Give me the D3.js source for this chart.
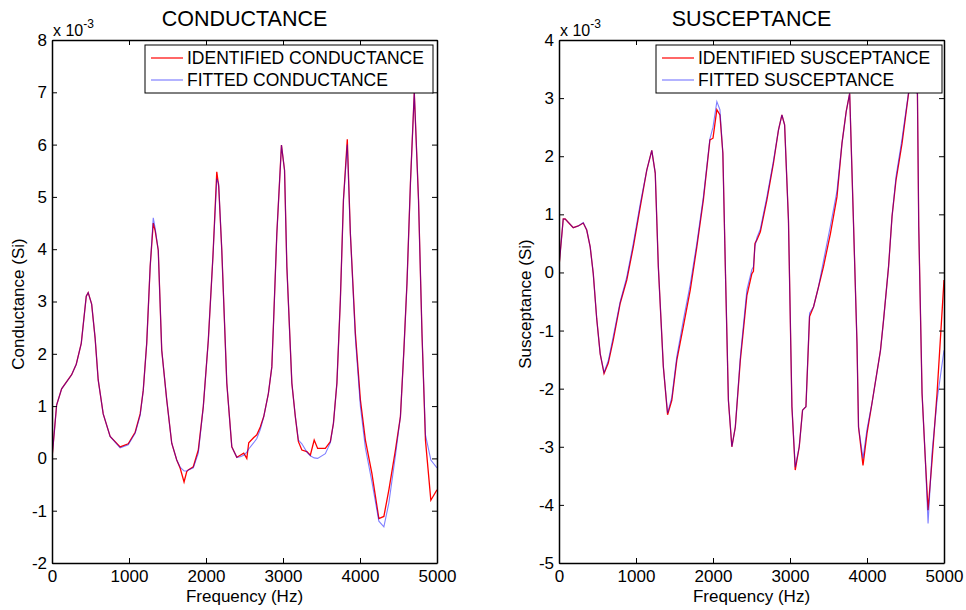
<!DOCTYPE html>
<html lang="en">
<head>
  <meta charset="UTF-8" />
  <script src="https://d3js.org/d3.v7.min.js"></script>
  <title>Conductance and Susceptance</title>
  <style>
    body { margin: 0; background: #fff; }
    svg text { font-family: Arial, "Liberation Sans", sans-serif; fill: #000; }
  </style>
</head>
<body>
  <script>
    // conductance (x 1e-3 Si)
    var gFreq = [0, 60, 125, 255, 315, 380, 445, 470, 515, 560, 600, 665, 755, 885, 990, 1080, 1145, 1185, 1230, 1275,
      1315, 1340, 1380, 1425, 1490, 1555, 1620, 1665, 1715, 1750, 1770, 1835, 1900, 1965, 2030, 2090, 2140, 2165,
      2205, 2270, 2335, 2400, 2445, 2490, 2530, 2555, 2620, 2660, 2705, 2750, 2810, 2855, 2880, 2920, 2980, 3020,
      3050, 3115, 3160, 3200, 3245, 3310, 3355, 3405, 3450, 3550, 3615, 3655, 3700, 3745, 3785, 3835, 3875, 3940,
      4005, 4070, 4155, 4245, 4310, 4375, 4460, 4525, 4570, 4610, 4655, 4705, 4760, 4805, 4850, 4920, 5000];
    var gIdent = [0, 1.02, 1.33, 1.6, 1.8, 2.2, 3.1, 3.17, 2.95, 2.3, 1.5, 0.85, 0.42, 0.22, 0.28, 0.5, 0.85, 1.3, 2.2, 3.67,
      4.5, 4.35, 3.98, 2.07, 1.12, 0.29, -0.03, -0.19, -0.45, -0.25, -0.22, -0.16, 0.16, 0.99, 2.26, 3.86, 5.48, 5.2,
      3.98, 1.44, 0.22, 0.02, 0.06, 0.1, 0.0, 0.3, 0.4, 0.45, 0.6, 0.8, 1.24, 1.75, 2.71, 4.3, 5.99, 5.51,
      3.67, 1.44, 0.8, 0.32, 0.16, 0.13, 0.06, 0.35, 0.19, 0.19, 0.32, 0.67, 1.44, 3.03, 4.94, 6.1, 4.3, 2.39,
      1.12, 0.35, -0.29, -1.15, -1.11, -0.6, 0.16, 0.8, 2.07, 3.35, 5.26, 7.0, 4.94, 2.39, 0.35, -0.8, -0.6];
    var gFit = [0, 1.02, 1.33, 1.6, 1.8, 2.2, 3.1, 3.17, 2.95, 2.3, 1.5, 0.85, 0.42, 0.2, 0.26, 0.48, 0.82, 1.3, 2.2, 3.67,
      4.6, 4.4, 3.98, 2.07, 1.12, 0.29, -0.03, -0.17, -0.24, -0.24, -0.22, -0.18, 0.1, 0.99, 2.26, 3.86, 5.35, 5.25,
      3.98, 1.44, 0.22, 0.02, 0.03, 0.06, 0.12, 0.18, 0.3, 0.38, 0.55, 0.8, 1.24, 1.75, 2.71, 4.3, 5.99, 5.51,
      3.67, 1.44, 0.8, 0.35, 0.28, 0.12, 0.05, 0.01, 0.0, 0.09, 0.3, 0.67, 1.44, 3.03, 4.94, 6.0, 4.3, 2.3,
      1.0, 0.2, -0.45, -1.2, -1.31, -0.85, 0.05, 0.8, 2.07, 3.35, 5.26, 7.0, 4.94, 2.39, 0.45, -0.03, -0.18];

    // susceptance (x 1e-3 Si)
    var bFreq = [0, 55, 80, 185, 250, 315, 360, 405, 445, 490, 535, 585, 640, 705, 795, 880, 965, 1055, 1140, 1205,
      1250, 1290, 1355, 1410, 1465, 1530, 1615, 1705, 1790, 1875, 1960, 2000, 2050, 2090, 2128, 2160, 2200, 2245,
      2290, 2355, 2440, 2505, 2525, 2545, 2570, 2615, 2700, 2785, 2850, 2895, 2930, 2980, 3025, 3068, 3120, 3163,
      3207, 3254, 3306, 3370, 3435, 3525, 3610, 3675, 3730, 3775, 3826, 3870, 3890, 3948, 4000, 4065, 4175, 4215,
      4280, 4325, 4377, 4455, 4540, 4585, 4630, 4655, 4672, 4715, 4758, 4793, 4845, 4910, 5000];
    var bIdent = [0.1, 0.92, 0.92, 0.77, 0.8, 0.85, 0.73, 0.44, -0.02, -0.8, -1.4, -1.74, -1.56, -1.16, -0.53, -0.13, 0.44, 1.13, 1.76, 2.1,
      1.71, 0.1, -1.62, -2.45, -2.2, -1.51, -0.93, -0.3, 0.44, 1.25, 2.28, 2.31, 2.8, 2.71, 2.05, 0.1, -2.2, -3.0,
      -2.66, -1.51, -0.4, -0.02, 0.02, 0.5, 0.56, 0.7, 1.25, 1.88, 2.45, 2.71, 2.54, 0.9, -2.31, -3.4, -3.0, -2.37,
      -2.31, -0.76, -0.59, -0.25, 0.1, 0.67, 1.3, 2.22, 2.77, 3.08, 0.79, -1.22, -2.66, -3.32, -2.77, -2.25, -1.34, -0.82,
      0.1, 0.96, 1.59, 2.22, 3.08, 3.3, 3.4, 3.08, 0.79, -2.08, -3.23, -4.09, -3.23, -2.08, -0.13];
    var bFit = [0.1, 0.92, 0.92, 0.77, 0.8, 0.86, 0.73, 0.44, -0.02, -0.8, -1.4, -1.72, -1.52, -1.1, -0.5, -0.08, 0.5, 1.18, 1.76, 2.1,
      1.71, 0.1, -1.62, -2.42, -2.15, -1.45, -0.82, -0.2, 0.5, 1.3, 2.3, 2.5, 2.94, 2.8, 2.05, 0.1, -2.2, -3.0,
      -2.66, -1.45, -0.3, 0.05, 0.1, 0.45, 0.6, 0.75, 1.3, 1.92, 2.45, 2.71, 2.54, 0.9, -2.31, -3.35, -3.0, -2.37,
      -2.31, -0.7, -0.59, -0.25, 0.2, 0.8, 1.4, 2.22, 2.77, 3.08, 0.79, -1.22, -2.66, -3.2, -2.7, -2.25, -1.34, -0.82,
      0.1, 0.96, 1.65, 2.3, 3.1, 3.1, 3.1, 3.08, 0.79, -2.08, -3.23, -4.32, -3.1, -2.2, -1.34];

    var xTicks = [0, 1000, 2000, 3000, 4000, 5000];

    var width = 966, height = 610;

    var svg = d3.select("body").append("svg")
      .attr("width", width)
      .attr("height", height);

    // plain hyphen minus, no thousands comma (matlab look)
    var plain = function (d) { return String(d); };

    function drawPanel(opt) {
      var x = d3.scaleLinear().domain([0, 5000]).range([opt.left, opt.right]);
      var y = d3.scaleLinear().domain(opt.yDomain).range([563, 40]);
      var g = svg.append("g");
      var yTicks = d3.range(opt.yDomain[0], opt.yDomain[1] + 1, 1);

      var clipId = "clip" + opt.left;
      svg.append("clipPath").attr("id", clipId)
        .append("rect")
        .attr("x", opt.left).attr("y", 40)
        .attr("width", opt.right - opt.left).attr("height", 523);

      var line = function (ys) {
        return d3.line()
          .x(function (d, i) { return x(opt.freq[i]); })
          .y(function (d) { return y(d); })(ys);
      };

      g.append("path")
        .attr("d", line(opt.ident))
        .attr("clip-path", "url(#" + clipId + ")")
        .style("fill", "none")
        .style("stroke", "#ff0000")
        .style("stroke-width", 1.3);

      g.append("path")
        .attr("d", line(opt.fit))
        .attr("clip-path", "url(#" + clipId + ")")
        .style("fill", "none")
        .style("stroke", "#0000ff")
        .style("stroke-opacity", 0.5)
        .style("stroke-width", 1.1);

      // axes, ticks inside on all four sides
      var tk = 5;
      var bottom = d3.axisBottom(x).tickValues(xTicks).tickSizeInner(-tk).tickSizeOuter(0).tickPadding(7).tickFormat(plain);
      var top = d3.axisTop(x).tickValues(xTicks).tickSizeInner(-tk).tickSizeOuter(0).tickFormat("");
      var leftAx = d3.axisLeft(y).tickValues(yTicks).tickSizeInner(-tk).tickSizeOuter(0).tickPadding(5).tickFormat(plain);
      var rightAx = d3.axisRight(y).tickValues(yTicks).tickSizeInner(-tk).tickSizeOuter(0).tickFormat("");

      [
        g.append("g").attr("transform", "translate(0,563)").call(bottom),
        g.append("g").attr("transform", "translate(0,40)").call(top),
        g.append("g").attr("transform", "translate(" + opt.left + ",0)").call(leftAx),
        g.append("g").attr("transform", "translate(" + opt.right + ",0)").call(rightAx)
      ].forEach(function (a) {
        a.selectAll("path").style("stroke", "#000").style("stroke-width", 1.5);
        a.selectAll("line").style("stroke", "#000").style("stroke-width", 1);
        a.selectAll("text").style("font-size", "17px")
          .style("font-family", "Arial, 'Liberation Sans', sans-serif").attr("fill", "#000");
      });

      // legend (opaque box, hides the lines behind it)
      var lg = g.append("g");
      lg.append("rect")
        .attr("x", opt.legX).attr("y", 45)
        .attr("width", opt.legW).attr("height", 48)
        .style("fill", "#fff").style("stroke", "#000").style("stroke-width", 1);
      var items = [{ label: opt.names[0], c: "#ff0000", o: 1 }, { label: opt.names[1], c: "#0000ff", o: 0.5 }];
      items.forEach(function (it, i) {
        var yy = 58 + i * 22;
        lg.append("line")
          .attr("x1", opt.legX + 6).attr("x2", opt.legX + 38)
          .attr("y1", yy).attr("y2", yy)
          .style("stroke", it.c).style("stroke-opacity", it.o).style("stroke-width", 1.2);
        lg.append("text")
          .attr("x", opt.legX + 42).attr("y", yy + 6)
          .style("font-size", "17.5px")
          .text(it.label);
      });

      // title and labels
      var cx = (opt.left + opt.right) / 2;
      g.append("text").attr("x", cx).attr("y", 26)
        .attr("text-anchor", "middle").style("font-size", "21.5px").text(opt.title);
      g.append("text").attr("x", cx).attr("y", 602)
        .attr("text-anchor", "middle").style("font-size", "17px").text("Frequency (Hz)");
      g.append("text")
        .attr("transform", "translate(" + (opt.left - 28) + "," + 304 + ") rotate(-90)")
        .attr("text-anchor", "middle").style("font-size", "17px").text(opt.ylabel);

      // exponent
      var ex = g.append("text").attr("x", opt.left + 1).attr("y", 36).style("font-size", "16px");
      ex.append("tspan").text("x 10");
      ex.append("tspan").attr("dy", -8).style("font-size", "12px").text("-3");
    }

    drawPanel({
      left: 52, right: 437, yDomain: [-2, 8],
      freq: gFreq, ident: gIdent, fit: gFit,
      title: "CONDUCTANCE", ylabel: "Conductance (Si)",
      names: ["IDENTIFIED CONDUCTANCE", "FITTED CONDUCTANCE"],
      legX: 145, legW: 288
    });

    drawPanel({
      left: 559, right: 944, yDomain: [-5, 4],
      freq: bFreq, ident: bIdent, fit: bFit,
      title: "SUSCEPTANCE", ylabel: "Susceptance (Si)",
      names: ["IDENTIFIED SUSCEPTANCE", "FITTED SUSCEPTANCE"],
      legX: 656, legW: 286
    });
  </script>
</body>
</html>
